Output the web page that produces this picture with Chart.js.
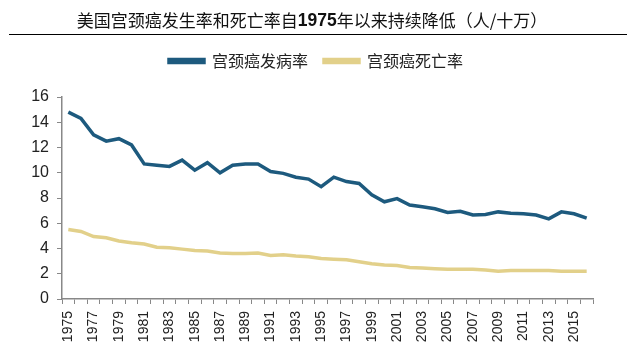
<!DOCTYPE html>
<html>
<head>
<meta charset="utf-8">
<script src="https://cdn.jsdelivr.net/npm/chart.js@4"></script>
<style>
  body { margin: 0; background: #fff; }
  #wrap { width: 632px; height: 358px; }
</style>
</head>
<body>
<div id="wrap"><canvas id="cervChart" width="632" height="358"></canvas></div>
<script>
// data (per 100k)
const years = [];
for (let y = 1975; y <= 2016; y++) years.push(String(y));

const incidence = [14.8, 14.3, 13.0, 12.5, 12.7, 12.2, 10.7, 10.6, 10.5, 11.0,
    10.2, 10.8, 10.0, 10.6, 10.7, 10.7, 10.1, 9.95, 9.65, 9.5,
    8.9, 9.65, 9.3, 9.15, 8.25, 7.7, 7.95, 7.45, 7.3, 7.15,
    6.85, 6.95, 6.65, 6.7, 6.9, 6.8, 6.75, 6.65, 6.35, 6.9,
    6.75, 6.4];

const mortality = [5.5, 5.35, 4.95, 4.85, 4.6, 4.45, 4.35, 4.1, 4.05, 3.95,
    3.85, 3.8, 3.65, 3.6, 3.6, 3.65, 3.45, 3.5, 3.4, 3.35,
    3.2, 3.15, 3.1, 2.95, 2.8, 2.7, 2.65, 2.5, 2.45, 2.4,
    2.35, 2.35, 2.35, 2.3, 2.2, 2.25, 2.25, 2.25, 2.25, 2.2,
    2.2, 2.2];

const seriesNames = ['宫颈癌发病率', '宫颈癌死亡率'];
// title pieces, the year is bold in the original
const titleParts = ['美国宫颈癌发生率和死亡率自', '1975', '年以来持续降低（人/十万）'];

const cjkFont = '"Noto Sans CJK SC", sans-serif';
const latinFont = '"Liberation Sans", Arial, sans-serif';

// title text + rule under it
const titleBlock = {
    id: 'titleBlock',
    afterDraw(chart) {
        const ctx = chart.ctx;
        ctx.save();
        const fonts = ['17px ' + cjkFont, 'bold 17.5px ' + latinFont, '17px ' + cjkFont];
        let total = 0;
        const widths = titleParts.map((t, i) => {
            ctx.font = fonts[i];
            const w = ctx.measureText(t).width;
            total += w;
            return w;
        });
        let x = 312 - total / 2;
        ctx.fillStyle = '#111';
        ctx.textBaseline = 'middle';
        titleParts.forEach((t, i) => {
            ctx.font = fonts[i];
            ctx.fillText(t, x, 21);
            x += widths[i];
        });
        ctx.strokeStyle = '#000';
        ctx.lineWidth = 1;
        ctx.beginPath();
        ctx.moveTo(9, 34.5);
        ctx.lineTo(627, 34.5);
        ctx.stroke();
        ctx.restore();
    }
};

const ctx = document.getElementById('cervChart').getContext('2d');
new Chart(ctx, {
    type: 'line',
    data: {
        labels: years,
        datasets: [
            { label: seriesNames[0], data: incidence, borderColor: '#1d5a7e', backgroundColor: '#1d5a7e',
              borderWidth: 3.5, pointRadius: 0, tension: 0 },
            { label: seriesNames[1], data: mortality, borderColor: '#e2d08a', backgroundColor: '#e2d08a',
              borderWidth: 3.5, pointRadius: 0, tension: 0 }
        ]
    },
    options: {
        responsive: false,
        animation: false,
        layout: { padding: { left: 0, right: 0, top: 37, bottom: 4 } },
        plugins: {
            // used only as an empty spacer between legend and plot (weight below the legend's)
            title: {
                display: true,
                text: '',
                weight: 500,
                font: { size: 10, lineHeight: 1 },
                padding: { top: 0, bottom: 8 }
            },
            legend: {
                position: 'top',
                labels: {
                    color: '#222',
                    font: { family: cjkFont, size: 16 },
                    boxWidth: 35,
                    boxHeight: 3,
                    padding: 16
                }
            },
            tooltip: { enabled: false }
        },
        scales: {
            x: {
                offset: true,
                grid: { drawOnChartArea: false, drawTicks: true, tickLength: 5, offset: true, color: '#888' },
                border: { color: '#888', width: 1.5 },
                ticks: {
                    autoSkip: false,
                    maxRotation: 90,
                    minRotation: 90,
                    padding: 7,
                    color: '#222',
                    font: { family: latinFont, size: 14 },
                    callback: function(val, i) { return i % 2 === 0 ? this.getLabelForValue(val) : ''; }
                },
                afterFit(scale) { scale.height = 55; }
            },
            y: {
                min: 0,
                max: 16,
                ticks: { stepSize: 2, color: '#222', padding: 8,
                    font: { family: latinFont, size: 16 } },
                grid: { drawOnChartArea: false, drawTicks: true, tickLength: 5, color: '#888' },
                border: { color: '#888', width: 1.5 },
                afterFit(scale) { scale.width = 62; }
            },
            // empty right-hand axis, only keeps the plot narrower like the original
            yPad: {
                position: 'right',
                display: true,
                grid: { display: false },
                border: { display: false },
                ticks: { display: false },
                afterFit(scale) { scale.width = 39; }
            }
        }
    },
    plugins: [titleBlock]
});
</script>
</body>
</html>
